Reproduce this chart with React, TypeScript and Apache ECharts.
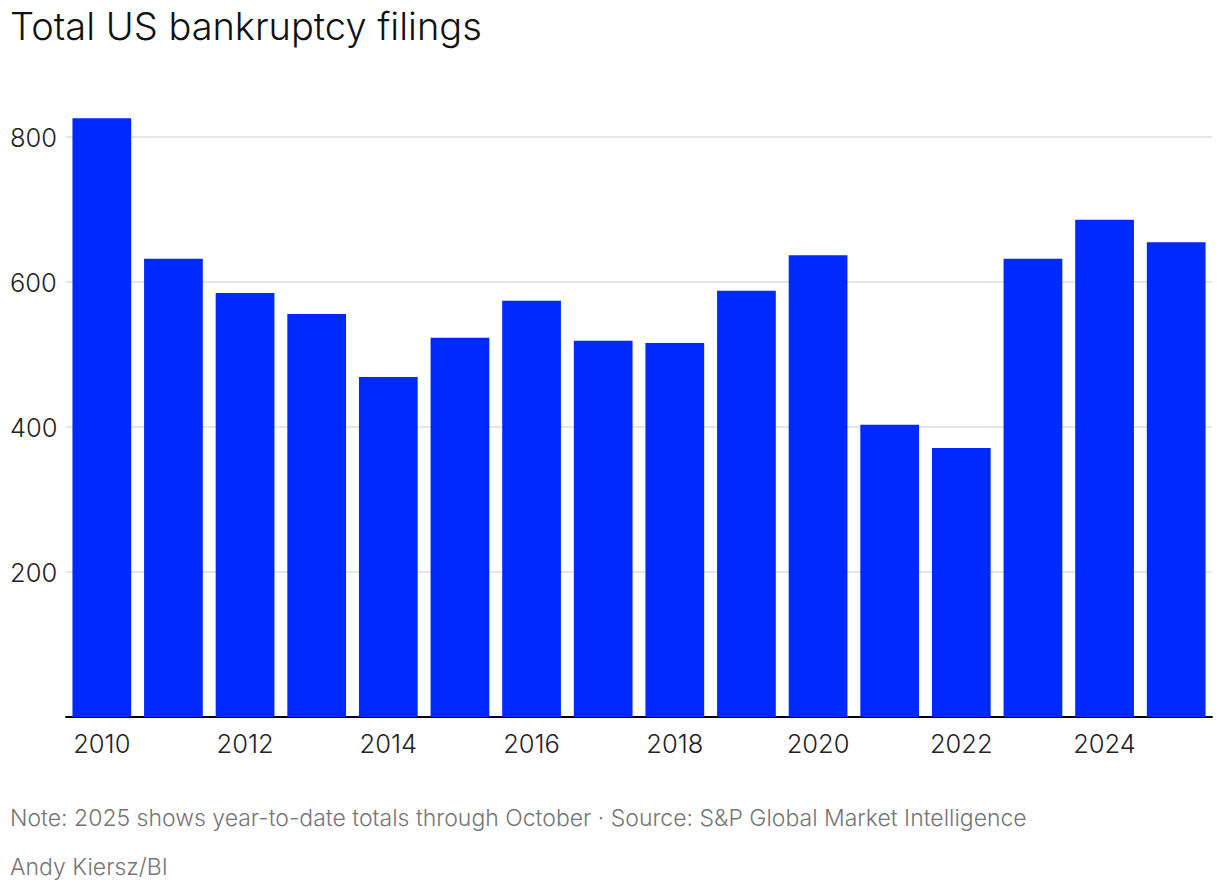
import React, { useEffect, useRef } from "react";
import * as echarts from "echarts";

const years = ["2010","2011","2012","2013","2014","2015","2016","2017","2018","2019","2020","2021","2022","2023","2024","2025"];
const filings = [826, 632, 585, 556, 469, 523, 574, 519, 516, 588, 637, 403, 371, 632, 686, 655];
const yTicks = [0, 200, 400, 600, 800];

const titleText = "Total US bankruptcy filings";
const noteText = "Note: 2025 shows year-to-date totals through October \u00b7 Source: S&P Global Market Intelligence";
const creditText = "Andy Kiersz/BI";

export default function App() {
  const ref = useRef<HTMLDivElement>(null);
  useEffect(() => {
    document.body.style.margin = "0";
    const chart = echarts.init(ref.current!, null, { renderer: "svg" });
    chart.setOption({
      animation: false,
      textStyle: { fontFamily: "Inter" },
      grid: { left: 66, right: 8, top: 137, bottom: 177, containLabel: false },
      graphic: [
        { type: "text", left: 10, top: 7, style: { text: titleText, font: "300 38px Inter", fill: "#111111" } },
        { type: "text", left: 10, top: 806, style: { text: noteText, font: "300 23px Inter", fill: "#767676" } },
        { type: "text", left: 10, top: 855, style: { text: creditText, font: "300 23px Inter", fill: "#767676" } },
      ],
      xAxis: {
        type: "category",
        data: years,
        axisLine: { show: true, lineStyle: { color: "#000000", width: 2 } },
        axisTick: { show: false },
        axisLabel: { interval: 1, color: "#222222", fontSize: 25.5, fontWeight: 300, margin: 13, fontFamily: "Inter" },
      },
      yAxis: {
        type: "value",
        min: yTicks[0],
        max: yTicks[yTicks.length - 1],
        interval: 200,
        axisLine: { show: false },
        axisTick: { show: false },
        splitLine: { lineStyle: { color: "#e6e6e6", width: 2 } },
        axisLabel: {
          showMinLabel: false,
          align: "left",
          margin: 56,
          color: "#222222",
          fontSize: 25.5,
          fontWeight: 300,
          fontFamily: "Inter",
        },
      },
      series: [
        {
          type: "bar",
          data: filings,
          clip: false,
          barCategoryGap: "18%",
          itemStyle: { color: "#0029ff" },
        },
      ],
    });
    return () => chart.dispose();
  }, []);
  return <div ref={ref} style={{ width: 1220, height: 894 }} />;
}
